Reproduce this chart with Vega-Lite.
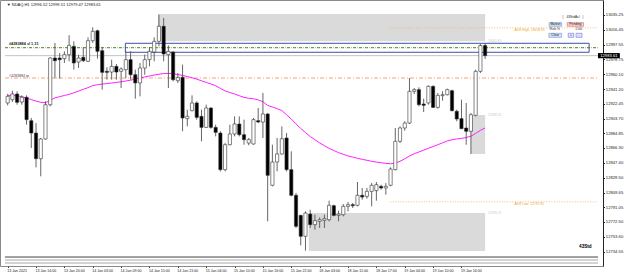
{
  "$schema": "https://vega.github.io/schema/vega-lite/v6.json",
  "width": 603,
  "height": 266,
  "autosize": {"type": "none"},
  "padding": {"left": 0, "top": 0, "right": 22, "bottom": 9},
  "background": "white",
  "config": {
    "view": {"stroke": "#8a8a8a", "strokeWidth": 1},
    "font": "Liberation Sans",
    "axis": {"labelOverlap": false, "labelBound": false, "labelFlush": false, "grid": false}
  },
  "datasets": {
    "bars": [
      {"i":0,"o":12923.5,"h":12934.9,"l":12920.5,"c":12931.9,"ma":12933.2},
      {"i":1,"o":12927.7,"h":12939.1,"l":12924.7,"c":12934.9,"ma":12933.2},
      {"i":2,"o":12934.9,"h":12938.3,"l":12921.3,"c":12924.3,"ma":12932.6},
      {"i":3,"o":12924.7,"h":12933.2,"l":12921.3,"c":12930.7,"ma":12931.5},
      {"i":4,"o":12930.7,"h":12933.2,"l":12895.9,"c":12902.3,"ma":12929.9},
      {"i":5,"o":12901.0,"h":12904.4,"l":12866.3,"c":12885.3,"ma":12927.8},
      {"i":6,"o":12885.3,"h":12898.0,"l":12841.7,"c":12852.7,"ma":12925.9},
      {"i":7,"o":12852.7,"h":12879.0,"l":12830.3,"c":12877.7,"ma":12924.3},
      {"i":8,"o":12877.7,"h":12925.6,"l":12876.9,"c":12921.3,"ma":12923.8},
      {"i":9,"o":12921.3,"h":12981.5,"l":12919.2,"c":12980.6,"ma":12926.9},
      {"i":10,"o":12980.6,"h":12999.7,"l":12954.4,"c":12977.2,"ma":12930.0},
      {"i":11,"o":12980.6,"h":12987.0,"l":12954.4,"c":12978.5,"ma":12931.5},
      {"i":12,"o":12979.8,"h":12989.1,"l":12974.3,"c":12984.9,"ma":12933.0},
      {"i":13,"o":12984.9,"h":13009.4,"l":12976.4,"c":12996.7,"ma":12934.4},
      {"i":14,"o":12995.4,"h":13001.8,"l":12965.8,"c":12974.3,"ma":12936.4},
      {"i":15,"o":12975.5,"h":12984.9,"l":12967.9,"c":12980.6,"ma":12938.6},
      {"i":16,"o":12981.5,"h":12994.2,"l":12975.5,"c":12977.2,"ma":12940.9},
      {"i":17,"o":12976.4,"h":13006.9,"l":12975.5,"c":13002.6,"ma":12943.0},
      {"i":18,"o":13002.6,"h":13019.6,"l":12999.7,"c":13014.5,"ma":12945.6},
      {"i":19,"o":13015.3,"h":13016.6,"l":12979.8,"c":12989.1,"ma":12946.7},
      {"i":20,"o":12989.9,"h":12994.2,"l":12940.4,"c":12962.4,"ma":12947.5},
      {"i":21,"o":12963.7,"h":12968.8,"l":12953.1,"c":12962.4,"ma":12948.1},
      {"i":22,"o":12962.8,"h":12978.5,"l":12953.1,"c":12970.0,"ma":12948.9},
      {"i":23,"o":12970.0,"h":12973.0,"l":12953.1,"c":12962.8,"ma":12949.6},
      {"i":24,"o":12963.7,"h":12968.8,"l":12942.5,"c":12966.6,"ma":12950.4},
      {"i":25,"o":12965.8,"h":12989.1,"l":12955.2,"c":12978.5,"ma":12951.4},
      {"i":26,"o":12978.5,"h":12989.1,"l":12953.1,"c":12959.4,"ma":12952.4},
      {"i":27,"o":12959.4,"h":12965.8,"l":12929.0,"c":12948.9,"ma":12953.8},
      {"i":28,"o":12948.9,"h":12974.3,"l":12931.9,"c":12967.9,"ma":12955.3},
      {"i":29,"o":12967.9,"h":12984.9,"l":12959.4,"c":12978.5,"ma":12956.6},
      {"i":30,"o":12978.5,"h":12994.2,"l":12970.0,"c":12989.1,"ma":12957.7},
      {"i":31,"o":12988.2,"h":13006.9,"l":12976.4,"c":13001.8,"ma":12959.0},
      {"i":32,"o":13001.8,"h":13035.7,"l":12995.4,"c":13020.9,"ma":12960.0},
      {"i":33,"o":13020.9,"h":13031.4,"l":12976.4,"c":12985.7,"ma":12960.9},
      {"i":34,"o":12984.9,"h":12996.7,"l":12942.5,"c":12989.1,"ma":12961.1},
      {"i":35,"o":12988.2,"h":12989.1,"l":12951.0,"c":12953.1,"ma":12960.6},
      {"i":36,"o":12951.8,"h":12961.6,"l":12948.9,"c":12956.1,"ma":12959.7},
      {"i":37,"o":12956.1,"h":12972.2,"l":12887.5,"c":12904.4,"ma":12958.4},
      {"i":38,"o":12903.6,"h":12915.0,"l":12893.8,"c":12906.5,"ma":12957.1},
      {"i":39,"o":12913.7,"h":12933.2,"l":12912.9,"c":12923.5,"ma":12955.5},
      {"i":40,"o":12923.5,"h":12925.6,"l":12902.3,"c":12905.2,"ma":12953.7},
      {"i":41,"o":12906.5,"h":12915.0,"l":12874.8,"c":12892.5,"ma":12951.7},
      {"i":42,"o":12892.5,"h":12921.3,"l":12891.7,"c":12917.1,"ma":12949.6},
      {"i":43,"o":12917.1,"h":12918.0,"l":12890.8,"c":12892.5,"ma":12947.6},
      {"i":44,"o":12892.5,"h":12895.9,"l":12881.1,"c":12886.2,"ma":12945.4},
      {"i":45,"o":12885.3,"h":12887.5,"l":12836.6,"c":12838.8,"ma":12942.0},
      {"i":46,"o":12838.8,"h":12872.6,"l":12836.6,"c":12870.5,"ma":12938.8},
      {"i":47,"o":12870.5,"h":12895.9,"l":12869.7,"c":12884.1,"ma":12936.8},
      {"i":48,"o":12884.1,"h":12906.5,"l":12881.1,"c":12896.8,"ma":12934.9},
      {"i":49,"o":12896.8,"h":12906.5,"l":12881.1,"c":12883.2,"ma":12932.7},
      {"i":50,"o":12883.2,"h":12902.3,"l":12870.5,"c":12876.9,"ma":12930.6},
      {"i":51,"o":12872.6,"h":12879.0,"l":12869.7,"c":12876.9,"ma":12929.4},
      {"i":52,"o":12871.4,"h":12904.4,"l":12870.5,"c":12902.3,"ma":12928.9},
      {"i":53,"o":12901.0,"h":12917.1,"l":12898.0,"c":12899.3,"ma":12927.3},
      {"i":54,"o":12899.3,"h":12936.2,"l":12879.0,"c":12909.5,"ma":12925.1},
      {"i":55,"o":12909.5,"h":12910.8,"l":12773.1,"c":12831.6,"ma":12920.4},
      {"i":56,"o":12818.9,"h":12870.5,"l":12817.6,"c":12848.5,"ma":12918.4},
      {"i":57,"o":12848.5,"h":12879.0,"l":12836.6,"c":12858.7,"ma":12916.3},
      {"i":58,"o":12858.7,"h":12893.8,"l":12857.8,"c":12878.1,"ma":12913.9},
      {"i":59,"o":12879.0,"h":12885.3,"l":12836.6,"c":12838.8,"ma":12908.5},
      {"i":60,"o":12838.8,"h":12862.1,"l":12804.9,"c":12806.2,"ma":12903.1},
      {"i":61,"o":12806.2,"h":12809.1,"l":12764.7,"c":12766.8,"ma":12897.0},
      {"i":62,"o":12780.7,"h":12781.6,"l":12742.6,"c":12754.1,"ma":12891.0},
      {"i":63,"o":12754.1,"h":12785.8,"l":12735.9,"c":12783.7,"ma":12885.9},
      {"i":64,"o":12782.4,"h":12787.9,"l":12764.7,"c":12768.9,"ma":12880.9},
      {"i":65,"o":12768.9,"h":12781.6,"l":12762.5,"c":12774.0,"ma":12876.8},
      {"i":66,"o":12773.1,"h":12778.2,"l":12764.7,"c":12775.2,"ma":12872.8},
      {"i":67,"o":12774.4,"h":12781.6,"l":12764.7,"c":12776.5,"ma":12869.3},
      {"i":68,"o":12775.2,"h":12799.4,"l":12773.1,"c":12793.5,"ma":12865.8},
      {"i":69,"o":12793.0,"h":12794.3,"l":12779.5,"c":12780.7,"ma":12863.1},
      {"i":70,"o":12780.7,"h":12786.7,"l":12773.1,"c":12782.4,"ma":12860.4},
      {"i":71,"o":12781.6,"h":12795.1,"l":12779.5,"c":12792.2,"ma":12858.3},
      {"i":72,"o":12792.2,"h":12797.7,"l":12785.8,"c":12794.3,"ma":12856.2},
      {"i":73,"o":12794.3,"h":12796.4,"l":12790.0,"c":12793.0,"ma":12854.7},
      {"i":74,"o":12793.5,"h":12823.1,"l":12792.2,"c":12806.2,"ma":12853.2},
      {"i":75,"o":12806.2,"h":12815.5,"l":12800.6,"c":12804.0,"ma":12851.9},
      {"i":76,"o":12804.9,"h":12815.5,"l":12801.9,"c":12811.2,"ma":12850.7},
      {"i":77,"o":12811.2,"h":12821.8,"l":12792.2,"c":12818.9,"ma":12849.4},
      {"i":78,"o":12812.1,"h":12823.1,"l":12799.4,"c":12819.7,"ma":12848.4},
      {"i":79,"o":12817.6,"h":12819.7,"l":12813.4,"c":12815.5,"ma":12847.6},
      {"i":80,"o":12815.5,"h":12821.8,"l":12807.0,"c":12817.6,"ma":12846.8},
      {"i":81,"o":12818.9,"h":12841.7,"l":12817.6,"c":12839.6,"ma":12846.2},
      {"i":82,"o":12838.8,"h":12891.7,"l":12837.9,"c":12874.8,"ma":12847.2},
      {"i":83,"o":12874.8,"h":12893.8,"l":12872.6,"c":12891.7,"ma":12849.4},
      {"i":84,"o":12891.7,"h":12900.2,"l":12888.3,"c":12898.0,"ma":12852.6},
      {"i":85,"o":12898.0,"h":12955.2,"l":12896.8,"c":12938.3,"ma":12856.1},
      {"i":86,"o":12938.3,"h":12942.5,"l":12934.9,"c":12940.4,"ma":12859.0},
      {"i":87,"o":12940.4,"h":12943.4,"l":12919.2,"c":12921.3,"ma":12861.3},
      {"i":88,"o":12922.2,"h":12929.0,"l":12912.0,"c":12920.5,"ma":12863.6},
      {"i":89,"o":12923.5,"h":12945.9,"l":12921.3,"c":12944.6,"ma":12865.9},
      {"i":90,"o":12944.6,"h":12945.9,"l":12917.1,"c":12917.9,"ma":12868.2},
      {"i":91,"o":12917.9,"h":12936.2,"l":12916.3,"c":12933.2,"ma":12870.5},
      {"i":92,"o":12932.8,"h":12938.3,"l":12926.4,"c":12934.0,"ma":12872.9},
      {"i":93,"o":12934.0,"h":12941.7,"l":12933.2,"c":12940.4,"ma":12875.3},
      {"i":94,"o":12939.1,"h":12940.4,"l":12912.9,"c":12913.7,"ma":12876.7},
      {"i":95,"o":12912.9,"h":12915.0,"l":12900.2,"c":12903.1,"ma":12877.8},
      {"i":96,"o":12903.6,"h":12927.7,"l":12890.8,"c":12890.8,"ma":12878.5},
      {"i":97,"o":12891.7,"h":12923.5,"l":12870.5,"c":12887.5,"ma":12879.6},
      {"i":98,"o":12887.5,"h":12910.8,"l":12858.7,"c":12908.6,"ma":12881.3},
      {"i":99,"o":12907.8,"h":12965.8,"l":12906.5,"c":12963.7,"ma":12884.8},
      {"i":100,"o":12963.7,"h":12998.4,"l":12961.6,"c":12996.5,"ma":12888.8},
      {"i":101,"o":12996.52,"h":12999.51,"l":12979.47,"c":12983.61,"ma":12891.7}
    ],
    "shapes": [
      {"k":"zone","i":31.8,"i2":101.0,"p":13036.5,"p2":13001.8},
      {"k":"zone","i":98.0,"i2":101.0,"p":12908.2,"p2":12858.7},
      {"k":"zone","i":63.7,"i2":101.0,"p":12783.7,"p2":12735.4},
      {"k":"box","i":24.9,"i2":123.0,"p":12999.3,"p2":12987.9},
      {"k":"btnBlue","i":114.55,"i2":117.19,"p":13025.5,"p2":13020.9},
      {"k":"btnBlue","i":114.49,"i2":117.19,"p":13012.0,"p2":13006.9},
      {"k":"btnRed","i":118.37,"i2":121.82,"p":13025.5,"p2":13020.9},
      {"k":"btnSmall","i":118.58,"i2":119.74,"p":13012.0,"p2":13006.9},
      {"k":"btnSmall","i":120.24,"i2":121.49,"p":13012.0,"p2":13006.9},
      {"k":"tag","i":124.88,"i2":129.5,"p":12986.9,"p2":12980.3}
    ],
    "lines": [
      {"k":"bid","i":-0.562,"i2":124.88,"p":12983.61},
      {"k":"adr","i":80.9,"i2":124.88,"p":13018.95},
      {"k":"adr","i":80.9,"i2":124.88,"p":12797.95},
      {"k":"tp","i":-0.562,"i2":124.88,"p":12955.2},
      {"k":"sl","i":-0.562,"i2":124.88,"p":12993.7},
      {"k":"frameDark","i":-0.562,"i2":124.88,"p":12727.8},
      {"k":"frameLight","i":-0.562,"i2":124.88,"p":12724.0},
      {"k":"frameLight","i":-0.562,"i2":124.88,"p":12720.2}
    ],
    "texts": [
      {"k":"hdr","i":-0.2,"p":13047.9,"t":"▼ NDAQ,H1  12996.52 12999.51 12979.47 12983.61"},
      {"k":"ordB","i":0.27,"p":12998.0,"t":"#4283884 sl 1.31"},
      {"k":"ord","i":0.27,"p":12958.1,"t":"#4283884 tp"},
      {"k":"adr","i":107.2,"p":13016.6,"t":"ADR High: 13018.95"},
      {"k":"adr","i":107.2,"p":12795.0,"t":"ADR Low: 12797.95"},
      {"k":"pnl","i":117.45,"p":13033.1,"t":"|"},
      {"k":"pnl","i":119.6,"p":13033.1,"t":"43StdAcl"},
      {"k":"pnl","i":121.7,"p":13033.1,"t":"|"},
      {"k":"pnl","i":115.87,"p":13023.2,"t":"Market"},
      {"k":"pnl","i":120.1,"p":13023.2,"t":"Pending"},
      {"k":"pnl","i":115.73,"p":13017.0,"t":"Risk %"},
      {"k":"pnl","i":120.82,"p":13017.0,"t":"2.00"},
      {"k":"pnl","i":115.84,"p":13009.4,"t":"Clear"},
      {"k":"pnl","i":119.16,"p":13009.4,"t":"+"},
      {"k":"pnl","i":120.87,"p":13009.4,"t":"-"},
      {"k":"zl","i":101.6,"p":13002.4,"t":"13001.85"},
      {"k":"zl","i":101.6,"p":12908.2,"t":"12908.20"},
      {"k":"zl","i":101.6,"p":12783.7,"t":"12783.70"},
      {"k":"acc","i":122.2,"p":12740.5,"t":"43Std"},
      {"k":"tag","i":127.19,"p":12983.61,"t":"12983.61"}
    ]
  },
  "layer": [
    {
      "data": {"name": "shapes"},
      "transform": [{"filter": "datum.k == 'zone'"}],
      "mark": {"type": "rect", "fill": "#dadada"},
      "encoding": {
        "x": {"field": "i", "type": "quantitative", "title": null, "scale": {"domain": [-0.562, 124.88], "nice": false, "zero": false}},
        "x2": {"field": "i2"},
        "y": {"field": "p", "type": "quantitative", "title": null, "scale": {"domain": [12716.4, 13054.3], "nice": false, "zero": false}},
        "y2": {"field": "p2"}
      }
    },
    {
      "data": {"name": "lines"},
      "transform": [{"filter": "datum.k == 'bid'"}],
      "mark": {"type": "rule", "stroke": "#c4c4c4", "strokeWidth": 1},
      "encoding": {
        "x": {"field": "i", "type": "quantitative", "title": null, "scale": {"domain": [-0.562, 124.88], "nice": false, "zero": false}},
        "x2": {"field": "i2"},
        "y": {"field": "p", "type": "quantitative", "title": null, "scale": {"domain": [12716.4, 13054.3], "nice": false, "zero": false}}
      }
    },
    {
      "data": {"name": "lines"},
      "transform": [{"filter": "datum.k == 'adr'"}],
      "mark": {"type": "rule", "stroke": "#f3b24a", "strokeWidth": 0.8, "strokeDash": [1, 1.6]},
      "encoding": {
        "x": {"field": "i", "type": "quantitative", "title": null, "scale": {"domain": [-0.562, 124.88], "nice": false, "zero": false}},
        "x2": {"field": "i2"},
        "y": {"field": "p", "type": "quantitative", "title": null, "scale": {"domain": [12716.4, 13054.3], "nice": false, "zero": false}}
      }
    },
    {
      "data": {"name": "lines"},
      "transform": [{"filter": "datum.k == 'tp'"}],
      "mark": {"type": "rule", "stroke": "#f7a072", "strokeWidth": 1, "strokeDash": [4, 2, 1, 2]},
      "encoding": {
        "x": {"field": "i", "type": "quantitative", "title": null, "scale": {"domain": [-0.562, 124.88], "nice": false, "zero": false}},
        "x2": {"field": "i2"},
        "y": {"field": "p", "type": "quantitative", "title": null, "scale": {"domain": [12716.4, 13054.3], "nice": false, "zero": false}}
      }
    },
    {
      "data": {"name": "lines"},
      "transform": [{"filter": "datum.k == 'sl'"}],
      "mark": {"type": "rule", "stroke": "#3d8a2e", "strokeWidth": 1, "strokeDash": [3, 3]},
      "encoding": {
        "x": {"field": "i", "type": "quantitative", "title": null, "scale": {"domain": [-0.562, 124.88], "nice": false, "zero": false}},
        "x2": {"field": "i2"},
        "y": {"field": "p", "type": "quantitative", "title": null, "scale": {"domain": [12716.4, 13054.3], "nice": false, "zero": false}}
      }
    },
    {
      "data": {"name": "lines"},
      "transform": [{"filter": "datum.k == 'sl'"}],
      "mark": {"type": "rule", "stroke": "#e89a3a", "strokeWidth": 1, "strokeDash": [1, 5], "strokeDashOffset": 2},
      "encoding": {
        "x": {"field": "i", "type": "quantitative", "title": null, "scale": {"domain": [-0.562, 124.88], "nice": false, "zero": false}},
        "x2": {"field": "i2"},
        "y": {"field": "p", "type": "quantitative", "title": null, "scale": {"domain": [12716.4, 13054.3], "nice": false, "zero": false}}
      }
    },
    {
      "data": {"name": "shapes"},
      "transform": [{"filter": "datum.k == 'box'"}],
      "mark": {"type": "rect", "fill": "transparent", "stroke": "#3a4fae", "strokeWidth": 1},
      "encoding": {
        "x": {"field": "i", "type": "quantitative", "title": null, "scale": {"domain": [-0.562, 124.88], "nice": false, "zero": false}},
        "x2": {"field": "i2"},
        "y": {"field": "p", "type": "quantitative", "title": null, "scale": {"domain": [12716.4, 13054.3], "nice": false, "zero": false}},
        "y2": {"field": "p2"}
      }
    },
    {
      "data": {"name": "lines"},
      "transform": [{"filter": "datum.k == 'frameDark'"}],
      "mark": {"type": "rule", "stroke": "#444444", "strokeWidth": 1},
      "encoding": {
        "x": {"field": "i", "type": "quantitative", "title": null, "scale": {"domain": [-0.562, 124.88], "nice": false, "zero": false}},
        "x2": {"field": "i2"},
        "y": {"field": "p", "type": "quantitative", "title": null, "scale": {"domain": [12716.4, 13054.3], "nice": false, "zero": false}}
      }
    },
    {
      "data": {"name": "lines"},
      "transform": [{"filter": "datum.k == 'frameLight'"}],
      "mark": {"type": "rule", "stroke": "#a8a8a8", "strokeWidth": 1},
      "encoding": {
        "x": {"field": "i", "type": "quantitative", "title": null, "scale": {"domain": [-0.562, 124.88], "nice": false, "zero": false}},
        "x2": {"field": "i2"},
        "y": {"field": "p", "type": "quantitative", "title": null, "scale": {"domain": [12716.4, 13054.3], "nice": false, "zero": false}}
      }
    },
    {
      "data": {"name": "bars"},
      "mark": {"type": "line", "stroke": "#ff20ff", "strokeWidth": 1},
      "encoding": {
        "x": {"field": "i", "type": "quantitative", "title": null, "scale": {"domain": [-0.562, 124.88], "nice": false, "zero": false}},
        "y": {"field": "ma", "type": "quantitative", "title": null, "scale": {"domain": [12716.4, 13054.3], "nice": false, "zero": false}}
      }
    },
    {
      "data": {"name": "bars"},
      "mark": {"type": "rule", "stroke": "#555555", "strokeWidth": 0.9},
      "encoding": {
        "x": {"field": "i", "type": "quantitative", "title": null, "scale": {"domain": [-0.562, 124.88], "nice": false, "zero": false}},
        "y": {"field": "l", "type": "quantitative", "title": null, "scale": {"domain": [12716.4, 13054.3], "nice": false, "zero": false}},
        "y2": {"field": "h"}
      }
    },
    {
      "data": {"name": "bars"},
      "mark": {"type": "bar", "size": 3.2, "stroke": "#333333", "strokeWidth": 0.6},
      "encoding": {
        "x": {
          "field": "i", "type": "quantitative", "title": null,
          "scale": {"domain": [-0.562, 124.88], "nice": false, "zero": false},
          "axis": {
            "orient": "bottom",
            "values": [0, 6, 12, 18, 24, 30, 36, 42, 48, 54, 60, 66, 72, 78, 84, 90, 96],
            "tickCount": 200,
            "labelExpr": "['13 Jan 2021','13 Jan 14:00','13 Jan 20:00','14 Jan 03:00','14 Jan 09:00','14 Jan 15:00','14 Jan 21:00','15 Jan 04:00','15 Jan 10:00','15 Jan 16:00','15 Jan 22:00','18 Jan 03:00','18 Jan 11:00','18 Jan 17:00','19 Jan 04:00','19 Jan 10:00','19 Jan 16:00'][round(datum.value / 6)]",
            "labelFontSize": 3.6,
            "labelFont": "Liberation Sans",
            "labelColor": "#222222",
            "labelAlign": "left",
            "labelOffset": -1,
            "labelPadding": 1,
            "tickSize": 1.5,
            "tickColor": "#444444",
            "domain": false,
            "grid": false,
            "labelOverlap": false,
            "labelBound": false,
            "labelFlush": false
          }
        },
        "y": {
          "field": "o", "type": "quantitative", "title": null,
          "scale": {"domain": [12716.4, 13054.3], "nice": false, "zero": false},
          "axis": {
            "orient": "right",
            "values": [13035.25, 13016.45, 12997.55, 12978.75, 12960.10, 12941.20, 12922.45, 12903.70, 12884.85, 12866.30, 12847.40, 12828.50, 12809.65, 12791.05, 12772.50, 12753.60, 12734.55],
            "tickCount": 200,
            "format": ".2f",
            "labelFontSize": 4.2,
            "labelFont": "Liberation Sans",
            "labelColor": "#222222",
            "labelAlign": "left",
            "labelBaseline": "middle",
            "labelPadding": 0.8,
            "tickSize": 1.5,
            "tickColor": "#222222",
            "domain": true,
            "domainColor": "#222222",
            "domainWidth": 1,
            "grid": false,
            "labelOverlap": false,
            "labelBound": false,
            "labelFlush": false
          }
        },
        "y2": {"field": "c"},
        "fill": {"condition": {"test": "datum.c >= datum.o", "value": "#ffffff"}, "value": "#000000"}
      }
    },
    {
      "data": {"name": "shapes"},
      "transform": [{"filter": "datum.k == 'btnBlue'"}],
      "mark": {"type": "rect", "fill": "#d3e3f7", "stroke": "#6b93d0", "strokeWidth": 0.6},
      "encoding": {
        "x": {"field": "i", "type": "quantitative", "title": null, "scale": {"domain": [-0.562, 124.88], "nice": false, "zero": false}},
        "x2": {"field": "i2"},
        "y": {"field": "p", "type": "quantitative", "title": null, "scale": {"domain": [12716.4, 13054.3], "nice": false, "zero": false}},
        "y2": {"field": "p2"}
      }
    },
    {
      "data": {"name": "shapes"},
      "transform": [{"filter": "datum.k == 'btnRed'"}],
      "mark": {"type": "rect", "fill": "#f6d2d2", "stroke": "#d46a6a", "strokeWidth": 0.6},
      "encoding": {
        "x": {"field": "i", "type": "quantitative", "title": null, "scale": {"domain": [-0.562, 124.88], "nice": false, "zero": false}},
        "x2": {"field": "i2"},
        "y": {"field": "p", "type": "quantitative", "title": null, "scale": {"domain": [12716.4, 13054.3], "nice": false, "zero": false}},
        "y2": {"field": "p2"}
      }
    },
    {
      "data": {"name": "shapes"},
      "transform": [{"filter": "datum.k == 'btnSmall'"}],
      "mark": {"type": "rect", "fill": "#e4e4fb", "stroke": "#6f6fd6", "strokeWidth": 0.6},
      "encoding": {
        "x": {"field": "i", "type": "quantitative", "title": null, "scale": {"domain": [-0.562, 124.88], "nice": false, "zero": false}},
        "x2": {"field": "i2"},
        "y": {"field": "p", "type": "quantitative", "title": null, "scale": {"domain": [12716.4, 13054.3], "nice": false, "zero": false}},
        "y2": {"field": "p2"}
      }
    },
    {
      "data": {"name": "shapes"},
      "transform": [{"filter": "datum.k == 'tag'"}],
      "mark": {"type": "rect", "fill": "#000000"},
      "encoding": {
        "x": {"field": "i", "type": "quantitative", "title": null, "scale": {"domain": [-0.562, 124.88], "nice": false, "zero": false}},
        "x2": {"field": "i2"},
        "y": {"field": "p", "type": "quantitative", "title": null, "scale": {"domain": [12716.4, 13054.3], "nice": false, "zero": false}},
        "y2": {"field": "p2"}
      }
    },
    {
      "data": {"name": "texts"},
      "transform": [{"filter": "datum.k == 'hdr'"}],
      "mark": {"type": "text", "align": "left", "baseline": "middle", "fontSize": 4, "font": "Liberation Sans", "fill": "#111111"},
      "encoding": {
        "x": {"field": "i", "type": "quantitative", "title": null, "scale": {"domain": [-0.562, 124.88], "nice": false, "zero": false}},
        "y": {"field": "p", "type": "quantitative", "title": null, "scale": {"domain": [12716.4, 13054.3], "nice": false, "zero": false}},
        "text": {"field": "t"}
      }
    },
    {
      "data": {"name": "texts"},
      "transform": [{"filter": "datum.k == 'ordB'"}],
      "mark": {"type": "text", "align": "left", "baseline": "middle", "fontSize": 3.8, "fontWeight": "bold", "font": "Liberation Sans", "fill": "#1a1a1a"},
      "encoding": {
        "x": {"field": "i", "type": "quantitative", "title": null, "scale": {"domain": [-0.562, 124.88], "nice": false, "zero": false}},
        "y": {"field": "p", "type": "quantitative", "title": null, "scale": {"domain": [12716.4, 13054.3], "nice": false, "zero": false}},
        "text": {"field": "t"}
      }
    },
    {
      "data": {"name": "texts"},
      "transform": [{"filter": "datum.k == 'ord'"}],
      "mark": {"type": "text", "align": "left", "baseline": "middle", "fontSize": 3.6, "font": "Liberation Sans", "fill": "#444444"},
      "encoding": {
        "x": {"field": "i", "type": "quantitative", "title": null, "scale": {"domain": [-0.562, 124.88], "nice": false, "zero": false}},
        "y": {"field": "p", "type": "quantitative", "title": null, "scale": {"domain": [12716.4, 13054.3], "nice": false, "zero": false}},
        "text": {"field": "t"}
      }
    },
    {
      "data": {"name": "texts"},
      "transform": [{"filter": "datum.k == 'adr'"}],
      "mark": {"type": "text", "align": "left", "baseline": "middle", "fontSize": 3.3, "font": "Liberation Sans", "fill": "#f0a030"},
      "encoding": {
        "x": {"field": "i", "type": "quantitative", "title": null, "scale": {"domain": [-0.562, 124.88], "nice": false, "zero": false}},
        "y": {"field": "p", "type": "quantitative", "title": null, "scale": {"domain": [12716.4, 13054.3], "nice": false, "zero": false}},
        "text": {"field": "t"}
      }
    },
    {
      "data": {"name": "texts"},
      "transform": [{"filter": "datum.k == 'pnl'"}],
      "mark": {"type": "text", "align": "center", "baseline": "middle", "fontSize": 3.3, "font": "Liberation Sans", "fill": "#222222"},
      "encoding": {
        "x": {"field": "i", "type": "quantitative", "title": null, "scale": {"domain": [-0.562, 124.88], "nice": false, "zero": false}},
        "y": {"field": "p", "type": "quantitative", "title": null, "scale": {"domain": [12716.4, 13054.3], "nice": false, "zero": false}},
        "text": {"field": "t"}
      }
    },
    {
      "data": {"name": "texts"},
      "transform": [{"filter": "datum.k == 'zl'"}],
      "mark": {"type": "text", "align": "left", "baseline": "middle", "fontSize": 3.2, "font": "Liberation Sans", "fill": "#c8c8c8"},
      "encoding": {
        "x": {"field": "i", "type": "quantitative", "title": null, "scale": {"domain": [-0.562, 124.88], "nice": false, "zero": false}},
        "y": {"field": "p", "type": "quantitative", "title": null, "scale": {"domain": [12716.4, 13054.3], "nice": false, "zero": false}},
        "text": {"field": "t"}
      }
    },
    {
      "data": {"name": "texts"},
      "transform": [{"filter": "datum.k == 'acc'"}],
      "mark": {"type": "text", "align": "center", "baseline": "middle", "fontSize": 4.6, "fontWeight": "bold", "font": "Liberation Sans", "fill": "#000000"},
      "encoding": {
        "x": {"field": "i", "type": "quantitative", "title": null, "scale": {"domain": [-0.562, 124.88], "nice": false, "zero": false}},
        "y": {"field": "p", "type": "quantitative", "title": null, "scale": {"domain": [12716.4, 13054.3], "nice": false, "zero": false}},
        "text": {"field": "t"}
      }
    },
    {
      "data": {"name": "texts"},
      "transform": [{"filter": "datum.k == 'tag'"}],
      "mark": {"type": "text", "align": "center", "baseline": "middle", "fontSize": 4.2, "font": "Liberation Sans", "fill": "#ffffff"},
      "encoding": {
        "x": {"field": "i", "type": "quantitative", "title": null, "scale": {"domain": [-0.562, 124.88], "nice": false, "zero": false}},
        "y": {"field": "p", "type": "quantitative", "title": null, "scale": {"domain": [12716.4, 13054.3], "nice": false, "zero": false}},
        "text": {"field": "t"}
      }
    }
  ]
}
